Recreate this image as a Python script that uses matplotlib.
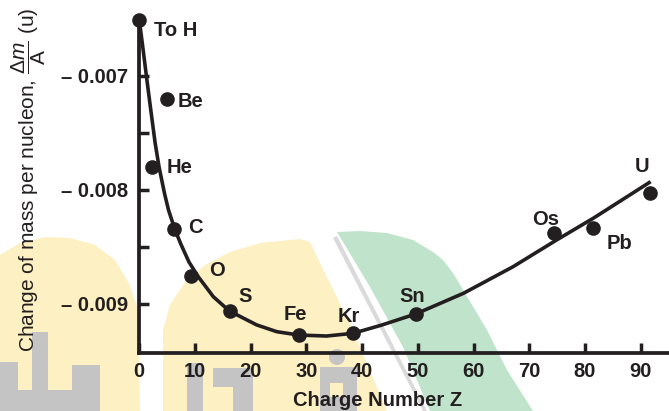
import matplotlib
matplotlib.use('Agg')
from matplotlib import pyplot as plt
from matplotlib.patches import Polygon, Rectangle, Circle
from matplotlib.transforms import Affine2D

plt.rcParams['font.family'] = ['Liberation Sans', 'DejaVu Sans']
plt.rcParams['mathtext.fontset'] = 'custom'
plt.rcParams['mathtext.rm'] = 'Liberation Sans'
plt.rcParams['mathtext.it'] = 'Liberation Sans:italic'
plt.rcParams['mathtext.bf'] = 'Liberation Sans:bold'

ink = '#231f20'

# measured points
elements = ['To H', 'Be', 'He', 'C', 'O', 'S', 'Fe', 'Kr', 'Sn', 'Os', 'Pb', 'U']
charge_z = [0, 4.9, 2.2, 6.2, 9.2, 16.2, 28.6, 38.4, 49.6, 74.5, 81.5, 91.6]
mass_per_nucleon = [-0.00651, -0.007204, -0.007796, -0.008345, -0.008752, -0.009061,
                    -0.009272, -0.009257, -0.009088, -0.008380, -0.008336, -0.008024]

# smooth curve
curve_z = [0, 0.54, 1.29, 2.06, 2.85, 3.54, 4.52, 5.24, 6.32, 7.40, 8.92, 10.59, 13.29,
           16.16, 21.1, 24.7, 28.6, 33.6, 38.4, 43.5, 49.6, 58.2, 67.1, 74.9, 81.5, 91.8]
curve_dm = [-0.006509, -0.006713, -0.007006, -0.007298, -0.007590, -0.007796, -0.008029,
            -0.008175, -0.008336, -0.008468, -0.008632, -0.008761, -0.008936, -0.009061,
            -0.009184, -0.009243, -0.009272, -0.009281, -0.009257, -0.009185, -0.009088,
            -0.008906, -0.008673, -0.008439, -0.008248, -0.007927]

x_ticks = [0, 10, 20, 30, 40, 50, 60, 70, 80, 90]
y_ticks = [-0.007, -0.008, -0.009]
y_minor = [-0.0075, -0.0085]
y_tick_labels = ['\u2013 0.007', '\u2013 0.008', '\u2013 0.009']

# label placement: (dx, dy) in pixels from the dot, alignment
label_pos = {
    'To H': (14.7, -16, 'left'), 'Be': (11.3, -7.7, 'left'), 'He': (15.3, -6.3, 'left'),
    'C': (14, -3.7, 'left'), 'O': (18.3, -0.3, 'left'), 'S': (8.7, 9, 'left'),
    'Fe': (-3.2, 15, 'center'), 'Kr': (-4.8, 11.3, 'center'), 'Sn': (-3.7, 12, 'center'),
    'Os': (-9, 8.3, 'center'), 'Pb': (13.7, -20.7, 'left'), 'U': (-7.8, 20.7, 'center'),
}

W, H = 669, 411
fig = plt.figure(figsize=(W / 100, H / 100), dpi=100)
px = Affine2D().scale(1 / W, -1 / H).translate(0, 1) + fig.transFigure

# watermark in the background
yellow = '#fdf0c3'
green = '#c0e4cb'
grey = '#c4c4c4'
bg = []
bg.append(Polygon([(0, 255), (20, 243), (45, 237), (70, 238), (95, 245), (115, 260),
                   (130, 285), (138, 310), (140, 411), (0, 411)], closed=True, fc=yellow))
bg.append(Polygon([(163, 411), (163, 330), (170, 305), (185, 282), (205, 265), (230, 252),
                   (260, 243), (300, 239), (310, 242), (320, 263), (353, 330), (387, 411)],
                  closed=True, fc=yellow))
bg.append(Polygon([(337, 232), (360, 231), (387, 233), (413, 240), (433, 252), (443, 260),
                   (453, 273), (487, 330), (507, 370), (533, 411), (430, 411), (403, 347),
                   (370, 287)], closed=True, fc=green))
bg.append(Polygon([(333, 238), (337, 236), (427, 411), (423, 411)], closed=True, fc='#dadada'))
for x0, y0, w, h in [(32, 332, 16, 79), (0, 390, 100, 21), (0, 362, 18, 30), (72, 365, 28, 25),
                     (187, 363, 16, 48), (213, 368, 40, 19), (233, 368, 20, 43),
                     (320, 367, 37, 44)]:
    bg.append(Rectangle((x0, y0), w, h, fc=grey))
bg.append(Rectangle((330, 383), 13, 14, fc=yellow))
bg.append(Circle((337, 357), 8, fc=grey))
for p in bg:
    p.set_edgecolor('none')
    p.set_transform(px)
    p.set_zorder(-1)
    fig.patches.append(p)

# axes box: left spine at x=139.3 px, bottom at y=353.3 px
left, bottom, top = 139.3, 353.3, 18
ax = fig.add_axes([left / W, (H - bottom) / H, (W - left) / W, (bottom - top) / H])
ax.set_facecolor('none')
ax.set_xlim(0, (W - left) / 5.57)
ax.set_ylim(-0.007 - (bottom - 76) / 114000, -0.007 + (76 - top) / 114000)

for s in ['top', 'right']:
    ax.spines[s].set_visible(False)
for s in ['left', 'bottom']:
    ax.spines[s].set_linewidth(2.7)
    ax.spines[s].set_color(ink)

ax.set_xticks(x_ticks)
ax.set_xticklabels([str(t) for t in x_ticks], fontsize=14.5, fontweight='bold', color=ink)
ax.set_yticks(y_ticks)
ax.set_yticklabels(y_tick_labels, fontsize=14.5, fontweight='bold', color=ink)
ax.set_yticks(y_minor, minor=True)
ax.tick_params(which='both', direction='in', length=7, width=2.5, color=ink)
ax.tick_params(axis='x', pad=6)
ax.tick_params(axis='y', pad=8)

ax.plot(curve_z, curve_dm, color=ink, lw=2.6, solid_capstyle='butt', solid_joinstyle='round',
        clip_on=False, zorder=3)
ax.plot(charge_z, mass_per_nucleon, 'o', color=ink, ms=9.5, clip_on=False, zorder=4)

for name, z, dm in zip(elements, charge_z, mass_per_nucleon):
    dx, dy, ha = label_pos[name]
    ax.annotate(name, (z, dm), xytext=(dx, dy), textcoords='offset pixels',
                ha=ha, va='baseline', fontsize=14.5, fontweight='bold', color=ink)

fig.text(377.5 / W, 5 / H, 'Charge Number Z', ha='center', va='baseline',
         fontsize=14.5, fontweight='bold', color=ink)
fig.text(29 / W, (H - 180) / H, r'Change of mass per nucleon, $\dfrac{\mathit{\Delta m}}{\mathrm{A}}$ (u)',
         rotation=90, ha='center', va='center', fontsize=15, color=ink)

plt.savefig('out.png', dpi=100)
